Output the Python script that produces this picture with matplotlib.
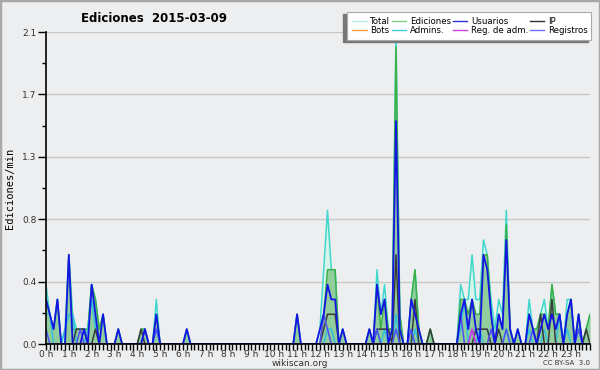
import matplotlib
matplotlib.use('Agg')
import matplotlib.pyplot as plt
import numpy as np
from matplotlib.lines import Line2D
from matplotlib.patches import Rectangle

# edits per minute, one value per 10 minutes (6 per hour)
total = [
    0.4, 0.2, 0.1, 0.3, 0, 0.1,   0.6, 0.2, 0.1, 0.1, 0.1, 0.1,
    0.4, 0.3, 0.1, 0.2, 0, 0,     0, 0.1, 0, 0, 0, 0,
    0, 0.1, 0.1, 0, 0, 0.3,       0, 0, 0, 0, 0, 0,
    0, 0.1, 0, 0, 0, 0,           0, 0, 0, 0, 0, 0,
    0, 0, 0, 0, 0, 0,             0, 0, 0, 0, 0, 0,
    0, 0, 0, 0, 0, 0,             0.2, 0, 0, 0, 0, 0,
    0.1, 0.5, 0.9, 0.5, 0.5, 0,   0.1, 0, 0, 0, 0, 0,
    0, 0.1, 0, 0.5, 0.2, 0.4,     0.1, 0.1, 2.1, 0.2, 0, 0,
    0.3, 0.5, 0.1, 0, 0, 0.1,     0, 0, 0, 0, 0, 0,
    0, 0.4, 0.3, 0.3, 0.6, 0.3,   0.3, 0.7, 0.6, 0.3, 0.1, 0.3,
    0.2, 0.9, 0.1, 0, 0.1, 0,     0, 0.3, 0.1, 0.1, 0.2, 0.3,
    0.1, 0.4, 0.2, 0.2, 0, 0.3,   0.3, 0, 0.2, 0, 0.1, 0.2,
]
edits = [
    0.3, 0.2, 0.1, 0.3, 0, 0,     0.6, 0.1, 0.1, 0.1, 0.1, 0.1,
    0.4, 0.3, 0.1, 0.2, 0, 0,     0, 0.1, 0, 0, 0, 0,
    0, 0.1, 0.1, 0, 0, 0.2,       0, 0, 0, 0, 0, 0,
    0, 0.1, 0, 0, 0, 0,           0, 0, 0, 0, 0, 0,
    0, 0, 0, 0, 0, 0,             0, 0, 0, 0, 0, 0,
    0, 0, 0, 0, 0, 0,             0.2, 0, 0, 0, 0, 0,
    0, 0.2, 0.5, 0.5, 0.5, 0,     0.1, 0, 0, 0, 0, 0,
    0, 0.1, 0, 0.4, 0.1, 0.3,     0.1, 0.1, 2.0, 0.2, 0, 0,
    0.3, 0.5, 0.1, 0, 0, 0.1,     0, 0, 0, 0, 0, 0,
    0, 0.3, 0.3, 0.2, 0.3, 0.2,   0.2, 0.6, 0.6, 0.2, 0, 0.2,
    0.1, 0.8, 0.1, 0, 0.1, 0,     0, 0.2, 0.1, 0.1, 0.2, 0.2,
    0.1, 0.4, 0.2, 0.2, 0, 0.2,   0.3, 0, 0.2, 0, 0.1, 0.2,
]
users = [
    0.3, 0.2, 0.1, 0.3, 0, 0,     0.6, 0, 0, 0, 0.1, 0,
    0.4, 0.2, 0, 0.2, 0, 0,       0, 0.1, 0, 0, 0, 0,
    0, 0, 0.1, 0, 0, 0.2,         0, 0, 0, 0, 0, 0,
    0, 0.1, 0, 0, 0, 0,           0, 0, 0, 0, 0, 0,
    0, 0, 0, 0, 0, 0,             0, 0, 0, 0, 0, 0,
    0, 0, 0, 0, 0, 0,             0.2, 0, 0, 0, 0, 0,
    0.1, 0.2, 0.4, 0.3, 0.3, 0,   0.1, 0, 0, 0, 0, 0,
    0, 0.1, 0, 0.4, 0.2, 0.3,     0, 0.1, 1.5, 0.1, 0, 0,
    0.3, 0.2, 0.1, 0, 0, 0,       0, 0, 0, 0, 0, 0,
    0, 0.2, 0.3, 0.1, 0.3, 0.1,   0, 0.6, 0.5, 0.2, 0, 0.2,
    0.1, 0.7, 0.1, 0, 0.1, 0,     0, 0.2, 0.1, 0, 0.1, 0.2,
    0.1, 0.2, 0.1, 0.2, 0, 0.2,   0.3, 0, 0.2, 0, 0, 0,
]
ip = [
    0, 0, 0, 0, 0, 0,             0, 0, 0.1, 0.1, 0.1, 0,
    0, 0.1, 0, 0, 0, 0,           0, 0, 0, 0, 0, 0,
    0, 0.1, 0, 0, 0, 0,           0, 0, 0, 0, 0, 0,
    0, 0, 0, 0, 0, 0,             0, 0, 0, 0, 0, 0,
    0, 0, 0, 0, 0, 0,             0, 0, 0, 0, 0, 0,
    0, 0, 0, 0, 0, 0,             0, 0, 0, 0, 0, 0,
    0, 0.1, 0.2, 0.2, 0.2, 0,     0, 0, 0, 0, 0, 0,
    0, 0, 0, 0.1, 0.1, 0.1,       0.1, 0, 0.6, 0, 0, 0,
    0, 0.3, 0, 0, 0, 0.1,         0, 0, 0, 0, 0, 0,
    0, 0, 0, 0, 0, 0.1,           0.1, 0.1, 0.1, 0, 0, 0.1,
    0, 0, 0, 0, 0, 0,             0, 0, 0, 0, 0.2, 0,
    0, 0.3, 0, 0, 0, 0,           0, 0, 0, 0, 0.1, 0,
]
admins = [
    0.2, 0.2, 0, 0, 0, 0.1,       0.2, 0.2, 0, 0, 0, 0.1,
    0.3, 0.1, 0, 0, 0, 0,         0, 0, 0, 0, 0, 0,
    0, 0, 0, 0, 0, 0.1,           0, 0, 0, 0, 0, 0,
    0, 0, 0, 0, 0, 0,             0, 0, 0, 0, 0, 0,
    0, 0, 0, 0, 0, 0,             0, 0, 0, 0, 0, 0,
    0, 0, 0, 0, 0, 0,             0, 0, 0, 0, 0, 0,
    0, 0, 0.1, 0.1, 0, 0,         0, 0, 0, 0, 0, 0,
    0, 0, 0, 0.1, 0, 0.1,         0, 0, 0.2, 0, 0, 0,
    0, 0.1, 0, 0, 0, 0,           0, 0, 0, 0, 0, 0,
    0, 0.1, 0.3, 0, 0, 0,         0.1, 0, 0, 0, 0, 0,
    0, 0.1, 0, 0, 0, 0,           0, 0.1, 0, 0, 0, 0.1,
    0, 0, 0, 0.2, 0, 0.1,         0, 0, 0.1, 0, 0, 0,
]
registros = [
    0.1, 0, 0, 0, 0, 0,           0, 0, 0, 0.1, 0, 0,
    0, 0, 0, 0, 0, 0,             0, 0, 0, 0, 0, 0,
    0, 0, 0.1, 0, 0, 0.1,         0, 0, 0, 0, 0, 0,
    0, 0, 0, 0, 0, 0,             0, 0, 0, 0, 0, 0,
    0, 0, 0, 0, 0, 0,             0, 0, 0, 0, 0, 0,
    0, 0, 0, 0, 0, 0,             0, 0, 0, 0, 0, 0,
    0, 0.2, 0.1, 0, 0, 0,         0, 0, 0, 0, 0, 0,
    0, 0, 0, 0.1, 0, 0,           0, 0, 0.1, 0, 0, 0,
    0.1, 0, 0, 0, 0, 0,           0, 0, 0, 0, 0, 0,
    0, 0.2, 0, 0, 0.1, 0,         0, 0, 0, 0.1, 0, 0,
    0, 0.1, 0, 0, 0, 0,           0, 0, 0.1, 0, 0, 0,
    0, 0, 0, 0, 0, 0,             0, 0, 0.1, 0, 0, 0,
]
reg_adm = [0] * 112 + [0.1] + [0] * 31

hours = [f'{h} h' for h in range(24)]
legend_labels = ['Total', 'Ediciones', 'Usuarios', 'IP',
                 'Bots', 'Admins.', 'Reg. de adm.', 'Registros']
legend_colors = ['#b4ece8', '#7cd08a', '#3030e0', '#303030',
                 '#f4a040', '#40cce0', '#d040e0', '#7070f0']

bg = '#edeef0'
x = np.arange(len(total))

fig = plt.figure(figsize=(6, 3.7), dpi=100, facecolor=bg)
ax = fig.add_axes([46/600, 26/370, 544/600, 312/370], facecolor=bg)

ax.fill_between(x, total, color='#d6f3ec', lw=0)
ax.fill_between(x, edits, color='#8fcb98', lw=0, alpha=0.95)
ax.plot(x, total, color='#40d8cc', lw=1.1)
ax.plot(x, edits, color='#3cb045', lw=1.1)
ax.plot(x, admins, color='#30c0e0', lw=1.1)
ax.plot(x, ip, color='#3a3a3a', lw=1.1)
ax.plot(x, registros, color='#5050f0', lw=1.1)
ax.plot(x, reg_adm, color='#d040e0', lw=1.1)
ax.plot(x, users, color='#1414e6', lw=1.3)

ax.set_xlim(0, len(total) - 1)
ax.set_ylim(0, 2.1)

yt = np.linspace(0, 2.1, 6)
ax.set_yticks(yt)
ax.set_yticklabels([f'{v:.1f}' for v in yt])
ax.set_yticks((yt[:-1] + yt[1:]) / 2, minor=True)
ax.set_xticks(np.arange(0, len(total), 6))
ax.set_xticklabels(hours)
ax.set_xticks(x, minor=True)

ax.tick_params(axis='y', which='major', length=6, width=1, labelsize=6.5,
               pad=1, colors='black', labelcolor='#333333')
ax.tick_params(axis='y', which='minor', length=3, width=1)
ax.tick_params(axis='x', which='major', length=4, width=1, labelsize=6.5,
               pad=0, labelcolor='#333333')
ax.tick_params(axis='x', which='minor', length=4, width=1)

ax.grid(axis='y', which='major', color='#c8c8c8', lw=1)
ax.set_axisbelow(True)
for s in ['top', 'right']:
    ax.spines[s].set_visible(False)
for s in ['left', 'bottom']:
    ax.spines[s].set_linewidth(1.2)

fig.text(154/600, 1 - 18/370, 'Ediciones  2015-03-09', ha='center', va='center',
         fontsize=8.5, fontweight='bold')
fig.text(10/600, 1 - 188/370, 'Ediciones/min', rotation=90, ha='center', va='center',
         fontsize=7.5, family='DejaVu Sans Mono')
fig.text(300/600, 1 - 363/370, 'wikiscan.org', ha='center', va='center',
         fontsize=6.5, color='#333333')
fig.text(590/600, 1 - 363/370, 'CC BY-SA  3.0', ha='right', va='center',
         fontsize=5, color='#333333')

# legend box with shadow down-left
fig.patches.append(Rectangle((343/600, 1 - 42/370), 245/600, 28/370,
                             transform=fig.transFigure, color='#777777', zorder=1))
fig.patches.append(Rectangle((347/600, 1 - 39.5/370), 244/600, 28/370,
                             transform=fig.transFigure, facecolor='white',
                             edgecolor='#aaaaaa', lw=0.8, zorder=2))
handles = [Line2D([], [], color=c, lw=1) for c in legend_colors]
order = [0, 4, 1, 5, 2, 6, 3, 7]
leg = fig.legend([handles[i] for i in order], [legend_labels[i] for i in order],
                 ncol=4, loc='upper left', bbox_to_anchor=(346/600, 1 - 10.5/370),
                 frameon=False, fontsize=6.2, handlelength=1.7, handletextpad=0.4,
                 columnspacing=0.2, labelspacing=0.1, borderpad=0.2)
leg.set_zorder(3)

# outer border
fig.patches.append(Rectangle((0, 0), 1, 1, transform=fig.transFigure, fill=False,
                             edgecolor='#a8a8a8', lw=2.5, zorder=5))

fig.savefig('out.png', dpi=100, facecolor=bg)
